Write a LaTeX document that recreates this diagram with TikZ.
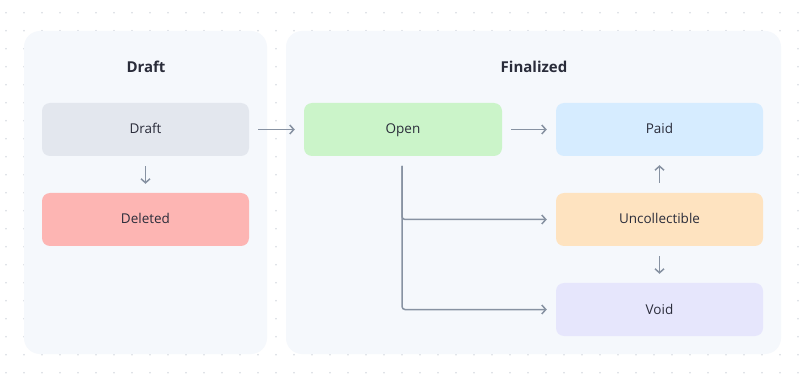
\documentclass[tikz,border=0pt]{standalone}
\usepackage{fontspec}
\setmainfont{Open Sans}
\usetikzlibrary{arrows.meta}
\definecolor{dotc}{HTML}{D5D9E0}
\definecolor{contc}{HTML}{F5F8FC}
\definecolor{draftc}{HTML}{E3E7EE}
\definecolor{delc}{HTML}{FDB5B3}
\definecolor{openc}{HTML}{CBF4C9}
\definecolor{paidc}{HTML}{D6ECFF}
\definecolor{uncc}{HTML}{FEE3C0}
\definecolor{voidc}{HTML}{E6E6FC}
\definecolor{arrc}{HTML}{8792A2}
\definecolor{txtc}{HTML}{2A2C3A}
\begin{document}
\begin{tikzpicture}[x=1pt,y=-1pt,
  container/.style={fill=contc,rounded corners=16pt},
  statebox/.style={rounded corners=8pt,minimum width=207pt,minimum height=53pt,inner sep=0pt,text=txtc,text height=12pt,text depth=3pt,font=\fontsize{13.5}{16}\selectfont},
  title/.style={text=txtc,font=\fontsize{15}{18}\selectfont\bfseries},
  conn/.style={draw=arrc,line width=1.5pt,-{Straight Barb[length=4pt,width=9pt,line width=1.5pt]}},
]
\useasboundingbox (0,0) rectangle (807,377);
\fill[white] (0,0) rectangle (807,377);
\foreach \i in {0,...,44}{
  \foreach \j in {0,...,20}{
    \fill[dotc] ({6+18*\i},{12.7+18*\j}) circle (0.9pt);
  }
}
\fill[container] (24,31) rectangle (267,354);
\fill[container] (286,31) rectangle (781,354);
\node[title] (tdraft) at (146,67) {Draft};
\node[title] (tfin) at (534,67) {Finalized};
\node[statebox,fill=draftc] (draft) at (145.5,129.5) {Draft};
\node[statebox,fill=delc] (deleted) at (145.5,219.5) {Deleted};
\node[statebox,fill=openc,minimum width=198pt] (open) at (403,129.5) {Open};
\node[statebox,fill=paidc] (paid) at (659.5,129.5) {Paid};
\node[statebox,fill=uncc] (unc) at (659.5,219.5) {Uncollectible};
\node[statebox,fill=voidc] (void) at (659.5,309.5) {Void};
\draw[conn] ([xshift=9pt]draft.east) -- ([xshift=-9pt]open.west);
\draw[conn] ([xshift=9pt]open.east) -- ([xshift=-9pt]paid.west);
\draw[conn] ([yshift=-10pt]draft.south) -- ([yshift=9pt]deleted.north);
\draw[conn] ([yshift=10pt]unc.north) -- ([yshift=-9pt]paid.south);
\draw[conn] ([yshift=-10pt]unc.south) -- ([yshift=9pt]void.north);
\coordinate (br) at (402,166);
\draw[conn,rounded corners=3pt] (br) |- ([xshift=-9pt]unc.west);
\draw[conn,rounded corners=3pt] (br) |- ([xshift=-9pt]void.west);
\end{tikzpicture}
\end{document}
